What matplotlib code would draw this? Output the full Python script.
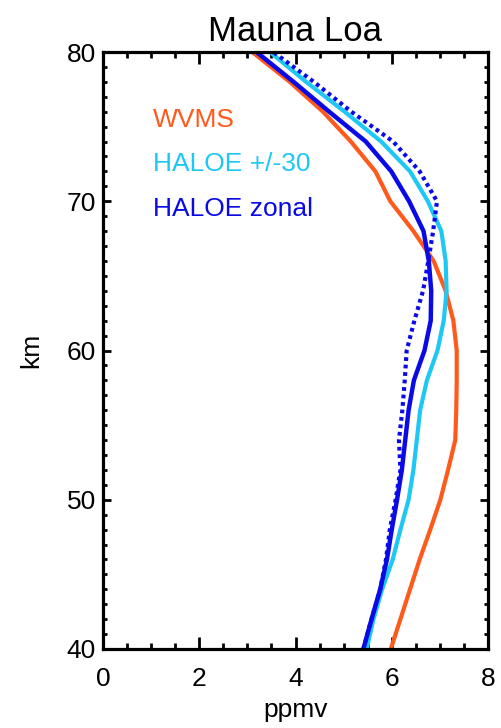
import numpy as np
import matplotlib; matplotlib.use("Agg"); import matplotlib.pyplot as plt
from matplotlib.ticker import MultipleLocator

plt.rcParams["font.family"] = ["Liberation Sans", "DejaVu Sans"]

# altitude grid (km) and profiles (ppmv)
alt = [40, 42, 44, 46, 48, 50, 52, 54, 56, 58, 60, 62, 64, 66, 68, 70, 72, 74, 76, 78, 80]
wvms = [5.98, 6.18, 6.38, 6.58, 6.80, 7.01, 7.17, 7.32, 7.34, 7.35, 7.35, 7.28, 7.12,
        6.87, 6.45, 5.97, 5.66, 5.15, 4.57, 3.88, 3.10]
haloe_30 = [5.48, 5.62, 5.80, 6.02, 6.18, 6.35, 6.45, 6.52, 6.59, 6.73, 6.95, 7.08, 7.14,
            7.12, 7.03, 6.75, 6.38, 5.78, 5.02, 4.22, 3.47]
haloe_zonal = [5.41, 5.58, 5.76, 5.90, 6.00, 6.11, 6.21, 6.28, 6.35, 6.46, 6.68, 6.81, 6.82,
               6.77, 6.66, 6.36, 5.99, 5.46, 4.70, 3.96, 3.19]
haloe_dot = [5.41, 5.58, 5.76, 5.88, 5.96, 6.08, 6.18, 6.15, 6.22, 6.27, 6.31, 6.47, 6.65,
             6.76, 6.86, 6.94, 6.58, 6.03, 5.16, 4.38, 3.54]
labels = ["WVMS", "HALOE +/-30", "HALOE zonal"]

C_OR, C_CY, C_BL = "#ff5a1c", "#1ec8f5", "#0a0ae6"

fig = plt.figure(figsize=(5.01, 7.28), dpi=100)
ax = fig.add_axes([103 / 501, 1 - 649 / 728, 385 / 501, 597 / 728])
ax.plot(wvms, alt, color=C_OR, lw=3)
ax.plot(haloe_30, alt, color=C_CY, lw=3)
ax.plot(haloe_zonal, alt, color=C_BL, lw=3.2)
ax.plot(haloe_dot, alt, color=C_BL, lw=3, ls=(0, (0.9, 0.9)))

for i, (t, c) in enumerate(zip(labels, [C_OR, C_CY, C_BL])):
    ax.text(1.04, 75 - 3 * i, t, color=c, fontsize=19, va="baseline", ha="left")

ax.set_xlim(0, 8); ax.set_ylim(40, 80)
ax.xaxis.set_major_locator(MultipleLocator(2)); ax.xaxis.set_minor_locator(MultipleLocator(0.5))
ax.yaxis.set_major_locator(MultipleLocator(10)); ax.yaxis.set_minor_locator(MultipleLocator(1))
ax.tick_params(which="both", direction="in", top=True, right=True, width=2, labelsize=19)
ax.tick_params(axis="x", which="major", length=8.5, pad=13)
ax.tick_params(axis="x", which="minor", length=4.3)
ax.tick_params(axis="y", which="major", length=5.8, pad=5)
ax.tick_params(axis="y", which="minor", length=2.9)
for s in ax.spines.values(): s.set_linewidth(2.3)

ax.set_xlabel("ppmv", fontsize=19, labelpad=5)
ax.set_ylabel("km", fontsize=19, labelpad=17)
ax.set_title("Mauna Loa", fontsize=25, pad=8)

fig.savefig("out.png", dpi=100)
